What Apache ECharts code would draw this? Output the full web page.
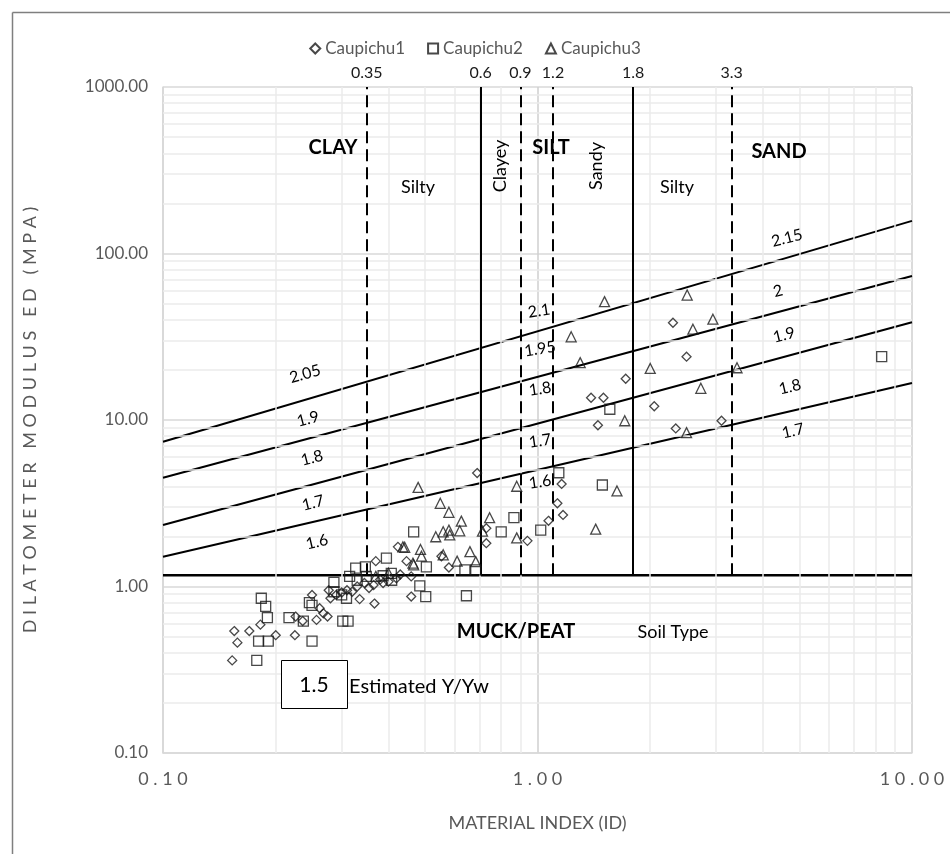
<!DOCTYPE html>
<html>
<head>
<meta charset="utf-8">
<script src="https://cdn.jsdelivr.net/npm/echarts@6/dist/echarts.min.js"></script>
<style>
html, body { margin: 0; padding: 0; background: #fff; }
#chart { width: 950px; height: 854px; }
</style>
</head>
<body>
<div id="chart"></div>
<script>
// [ID, ED (MPa)]
const caupichu1 = [
    [0.153, 0.36], [0.158, 0.46], [0.155, 0.54], [0.17, 0.54], [0.182, 0.59], [0.2, 0.51],
    [0.225, 0.51], [0.226, 0.66], [0.236, 0.62], [0.25, 0.89], [0.257, 0.63], [0.262, 0.74],
    [0.268, 0.69], [0.275, 0.66], [0.277, 0.95], [0.28, 0.85], [0.29, 0.89], [0.3, 0.92],
    [0.31, 0.95], [0.32, 0.93], [0.33, 1.0], [0.335, 0.84], [0.345, 1.05], [0.355, 0.98],
    [0.365, 1.02], [0.367, 0.79], [0.37, 1.42], [0.38, 1.1], [0.387, 1.05], [0.4, 1.07],
    [0.42, 1.12], [0.43, 1.18], [0.46, 0.87], [0.447, 1.42], [0.424, 1.73], [0.46, 1.15],
    [0.58, 1.3], [0.554, 1.52], [0.69, 4.8], [0.73, 2.24], [0.73, 1.82], [0.94, 1.88],
    [1.07, 2.48], [1.13, 3.16], [1.17, 2.69], [1.16, 4.13], [2.3, 38.4], [2.5, 24],
    [1.72, 17.7], [1.39, 13.6], [1.5, 13.6], [2.05, 12.1], [1.45, 9.3], [2.34, 8.9], [3.1, 9.9]
];
const caupichu2 = [
    [0.178, 0.36], [0.18, 0.47], [0.191, 0.47], [0.25, 0.47], [0.183, 0.85], [0.188, 0.76],
    [0.19, 0.65], [0.217, 0.65], [0.237, 0.62], [0.302, 0.62], [0.312, 0.62], [0.246, 0.8],
    [0.25, 0.77], [0.286, 1.06], [0.286, 0.93], [0.3, 0.89], [0.309, 0.85], [0.327, 1.29],
    [0.347, 1.31], [0.315, 1.15], [0.33, 1.09], [0.349, 1.15], [0.395, 1.48], [0.407, 1.2],
    [0.408, 1.09], [0.387, 1.16], [0.485, 1.01], [0.503, 0.87], [0.505, 1.31], [0.467, 2.13],
    [0.64, 1.26], [0.684, 1.26], [0.646, 0.88], [0.8, 2.13], [0.865, 2.59], [1.02, 2.18],
    [1.14, 4.82], [1.56, 11.6], [1.49, 4.07], [8.3, 24]
];
const caupichu3 = [
    [0.48, 3.94], [0.55, 3.16], [0.58, 2.79], [0.626, 2.47], [0.62, 2.16], [0.56, 2.13],
    [0.58, 2.18], [0.583, 2.04], [0.535, 1.99], [0.745, 2.59], [0.713, 2.15], [0.88, 4.0],
    [0.88, 1.96], [0.442, 1.72], [0.487, 1.67], [0.49, 1.52], [0.467, 1.35], [0.56, 1.55],
    [0.61, 1.42], [0.66, 1.62], [0.684, 1.41], [1.51, 51.4], [1.23, 31.6], [1.3, 22.1],
    [2.51, 56.3], [2.94, 40.3], [2.6, 35.1], [2.0, 20.4], [3.41, 20.6], [2.73, 15.5],
    [1.71, 9.9], [2.5, 8.4], [1.63, 3.75], [1.43, 2.21], [0.437, 1.73], [0.465, 1.38],
    [0.4, 1.2], [0.37, 1.15]
];

// soil type limits on ID (where drawn) and the label shown above
const boundaryIds = [0.35, 0.705, 0.9, 1.1, 1.8, 3.3];
const boundaryLabels = ['0.35', '0.6', '0.9', '1.2', '1.8', '3.3'];
const solidBoundaries = ['0.6', '1.8'];
// muck/peat limit on ED
const mudLimit = 1.17;
// unit weight lines: ED at ID = 0.1 and at ID = 10
const gammaLines = [[7.41, 157], [4.5, 73.3], [2.34, 38.6], [1.51, 16.7]];

const FONT = 'Lato, "Open Sans", sans-serif';
const chart = echarts.init(document.getElementById('chart'));

// minor log gridlines
const minorX = [];
[0.1, 1].forEach(d => { for (let k = 2; k <= 9; k++) minorX.push({ xAxis: +(d * k).toFixed(3) }); });
const minorY = [];
[0.1, 1, 10, 100].forEach(d => { for (let k = 2; k <= 9; k++) minorY.push({ yAxis: +(d * k).toFixed(3) }); });

// the axis texts use expanded character spacing
const spread = s => s.split('').join(' ');

function txt(text, x, y, size, opts) {
    opts = opts || {};
    return {
        type: 'text', x: x, y: y, rotation: opts.rot || 0, z: 100,
        style: {
            text: text, fontFamily: FONT, fontSize: size,
            fontWeight: opts.bold ? 'bold' : 'normal',
            fill: opts.color || '#000', align: 'center', verticalAlign: 'middle'
        }
    };
}

const scatterStyle = {
    color: 'rgba(255,255,255,0)',
    borderColor: '#1a1a1a',
    borderWidth: 1.3
};

const option = {
    animation: false,
    grid: { left: 163, right: 38, top: 87, bottom: 101 },
    legend: {
        top: 35,
        left: 'center',
        itemGap: 22,
        itemWidth: 10,
        itemHeight: 10,
        textStyle: { fontFamily: FONT, fontSize: 17, color: '#595959' },
        data: ['Caupichu1', 'Caupichu2', 'Caupichu3']
    },
    xAxis: {
        type: 'log',
        logBase: 10,
        min: 0.1,
        max: 10,
        name: 'MATERIAL INDEX (ID)',
        nameLocation: 'middle',
        nameGap: 61,
        nameTextStyle: { fontFamily: FONT, fontSize: 18, color: '#595959' },
        axisLine: { show: true, lineStyle: { color: '#d9d9d9', width: 1.5 } },
        axisTick: { show: false },
        axisLabel: { margin: 17, fontFamily: FONT, fontSize: 18, color: '#595959', formatter: v => spread(v.toFixed(2)) },
        splitLine: { show: true, lineStyle: { color: '#cfcfcf', width: 1.5 } }
    },
    yAxis: {
        type: 'log',
        logBase: 10,
        min: 0.1,
        max: 1000,
        name: spread('DILATOMETER MODULUS ED (MPA)'),
        nameLocation: 'middle',
        nameGap: 124,
        nameTextStyle: { fontFamily: FONT, fontSize: 18, color: '#595959' },
        axisLine: { show: true, lineStyle: { color: '#d9d9d9', width: 1.5 } },
        axisTick: { show: false },
        axisLabel: { margin: 15, fontFamily: FONT, fontSize: 17, color: '#595959', formatter: v => v.toFixed(2) },
        splitLine: { show: true, lineStyle: { color: '#d9d9d9', width: 1.5 } }
    },
    series: [
        {
            // minor gridlines
            type: 'line',
            data: [[0.1, 0.1]],
            symbol: 'none',
            lineStyle: { opacity: 0 },
            silent: true,
            z: 0,
            markLine: {
                silent: true,
                symbol: ['none', 'none'],
                label: { show: false },
                lineStyle: { color: '#ebebeb', width: 1.5, type: 'solid' },
                data: minorX.concat(minorY)
            }
        },
        {
            // muck/peat limit + soil type limits
            type: 'line',
            data: [[0.1, mudLimit], [10, mudLimit]],
            symbol: 'none',
            silent: true,
            lineStyle: { color: '#000', width: 2.5 },
            z: 3,
            markLine: {
                silent: true,
                symbol: ['none', 'none'],
                data: boundaryIds.map((id, i) => [
                    {
                        coord: [id, mudLimit],
                        lineStyle: {
                            color: '#000', width: 2,
                            type: solidBoundaries.includes(boundaryLabels[i]) ? 'solid' : [12, 6]
                        },
                        label: {
                            show: true, position: 'end', distance: 6,
                            formatter: boundaryLabels[i],
                            fontFamily: FONT, fontSize: 16, color: '#1a1a1a'
                        }
                    },
                    { coord: [id, 1000] }
                ])
            }
        }
    ].concat(gammaLines.map(g => ({
        type: 'line',
        data: [[0.1, g[0]], [10, g[1]]],
        symbol: 'none',
        silent: true,
        lineStyle: { color: '#000', width: 2 },
        z: 3
    }))).concat([
        { name: 'Caupichu1', type: 'scatter', symbol: 'diamond', symbolSize: 9, data: caupichu1, itemStyle: scatterStyle, z: 5 },
        { name: 'Caupichu2', type: 'scatter', symbol: 'rect', symbolSize: 10, data: caupichu2, itemStyle: scatterStyle, z: 5 },
        { name: 'Caupichu3', type: 'scatter', symbol: 'triangle', symbolSize: 10, data: caupichu3, itemStyle: scatterStyle, z: 5 }
    ]),
    graphic: [
        { type: 'line', shape: { x1: 12.5, y1: 12.5, x2: 12.5, y2: 854 }, style: { stroke: '#7f7f7f', lineWidth: 1.5 } },
        { type: 'line', shape: { x1: 12.5, y1: 12.5, x2: 950, y2: 12.5 }, style: { stroke: '#7f7f7f', lineWidth: 1.5 } },

        txt('CLAY', 333, 148, 20, { bold: true }),
        txt('Silty', 418, 187, 18),
        txt('Clayey', 500, 166, 18, { rot: Math.PI / 2 }),
        txt('SILT', 551, 148, 20, { bold: true }),
        txt('Sandy', 596, 166, 18, { rot: Math.PI / 2 }),
        txt('Silty', 677, 187, 18),
        txt('SAND', 779, 152, 20, { bold: true }),
        txt('MUCK/PEAT', 516, 632, 20, { bold: true }),
        txt('Soil Type', 673, 632, 18),
        { type: 'rect', shape: { x: 281.5, y: 660.5, width: 66, height: 48 }, style: { fill: '#fff', stroke: '#000', lineWidth: 1 }, z: 99 },
        txt('1.5', 314, 685, 21),
        txt('Estimated Y/Yw', 419, 687, 20),

        txt('2.05', 305, 374, 16, { rot: 0.27 }),
        txt('1.9', 308, 419, 16, { rot: 0.26 }),
        txt('1.8', 312, 458, 16, { rot: 0.25 }),
        txt('1.7', 313, 503, 16, { rot: 0.24 }),
        txt('1.6', 317, 542, 16, { rot: 0.23 }),

        txt('2.1', 539, 311, 16, { rot: 0.15 }),
        txt('1.95', 540, 349, 16, { rot: 0.15 }),
        txt('1.8', 540, 389, 16, { rot: 0.15 }),
        txt('1.7', 540, 441, 16, { rot: 0.15 }),
        txt('1.6', 540, 482, 16, { rot: 0.15 }),

        txt('2.15', 787, 238, 16, { rot: 0.25 }),
        txt('2', 778, 291, 16, { rot: 0.25 }),
        txt('1.9', 784, 335, 16, { rot: 0.24 }),
        txt('1.8', 790, 387, 16, { rot: 0.23 }),
        txt('1.7', 793, 431, 16, { rot: 0.22 })
    ]
};

chart.setOption(option);
</script>
</body>
</html>
